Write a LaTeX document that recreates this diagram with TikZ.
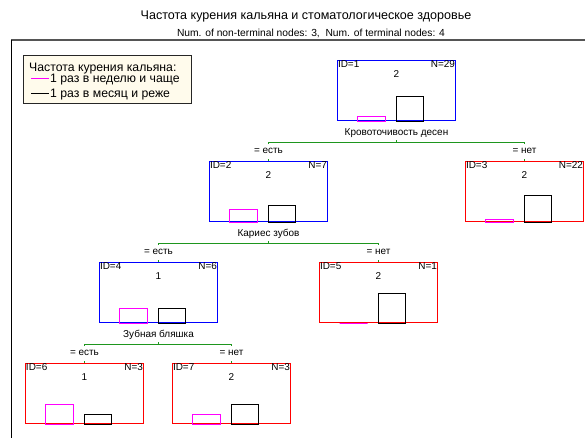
\documentclass[tikz,border=0pt]{standalone}
\usepackage{fontspec}
\setmainfont{Liberation Sans}
\usetikzlibrary{positioning}
\definecolor{trblue}{HTML}{0000FF}
\definecolor{trred}{HTML}{FF0000}
\definecolor{trgreen}{HTML}{1E961E}
\definecolor{trpink}{HTML}{FF00FF}
\definecolor{trcream}{HTML}{FFFBEC}
\definecolor{trframe}{HTML}{555555}

\begin{document}
\begin{tikzpicture}[x=1bp,y=1bp,
  innernode/.style={rectangle,draw,trblue,line width=1.4bp,minimum width=118bp,
                    minimum height=60bp,inner sep=0pt},
  termnode/.style={innernode,trred},
  idtxt/.style={font=\fontsize{10}{12}\selectfont,inner sep=1bp,anchor=north west},
  ntxt/.style={font=\fontsize{10}{12}\selectfont,inner sep=1bp,anchor=north east},
  cls/.style={font=\fontsize{10}{12}\selectfont,inner sep=0pt},
  cond/.style={font=\fontsize{10}{12}\selectfont,inner sep=0pt,text depth=0pt},
  legtxt/.style={font=\fontsize{12.3}{14}\selectfont,inner sep=0pt,text depth=0pt,anchor=west},
  branch/.style={trgreen,line width=1.1bp},
  pinkbar/.style={trpink,line width=1.2bp},
  blackbar/.style={black,line width=1bp}
]
\useasboundingbox (0,0) rectangle (585,438);

% ---- Title ---------------------------------------------------
\node[font=\fontsize{12.6}{15}\selectfont] (title) at (306,422)
  {Частота курения кальяна и стоматологическое здоровье};
\node[font=\fontsize{10.3}{12}\selectfont] (subtitle) at (311,405)
  {Num. of non-terminal nodes: 3,\ \ Num. of terminal nodes: 4};

% frame
\draw[trframe,line width=2bp] (11,398) -- (585,398);
\draw[black,line width=1bp] (11.5,398) -- (11.5,0);

% ---- Legend --------------------------------------------------
\node[draw=black!85,fill=trcream,line width=1bp,minimum width=168bp,
      minimum height=48bp,inner sep=0pt] (legend) at (107.5,358.5) {};
\node[legtxt] (leghdr) at (29,370.5) {Частота курения кальяна:};
\draw[trpink,line width=1.2bp] (31,359.5) -- (49,359.5);
\node[legtxt] (legweek) at (50,359.5) {1 раз в неделю и чаще};
\draw[black,line width=1bp] (31,344.5) -- (49,344.5);
\node[legtxt] (legmonth) at (50,344.5) {1 раз в месяц и реже};

% ---- Level 1 -------------------------------------------------
\node[innernode] (n1) at (396.5,347.5) {};
\node[idtxt] (id1) at (n1.north west) {ID=1};
\node[ntxt]  (cnt1) at (n1.north east) {N=29};
\node[cls]   (cls1) at ([yshift=-14bp]n1.north) {2};

% ---- Level 2 -------------------------------------------------
\node[innernode] (n2) at (268.5,246.5) {};
\node[idtxt] (id2) at (n2.north west) {ID=2};
\node[ntxt]  (cnt2) at (n2.north east) {N=7};
\node[cls]   (cls2) at ([yshift=-14bp]n2.north) {2};

\node[termnode] (n3) at (524.5,246.5) {};
\node[idtxt] (id3) at (n3.north west) {ID=3};
\node[ntxt]  (cnt3) at (n3.north east) {N=22};
\node[cls]   (cls3) at ([yshift=-14bp]n3.north) {2};

% ---- Level 3 -------------------------------------------------
\node[innernode] (n4) at (158.5,145.5) {};
\node[idtxt] (id4) at (n4.north west) {ID=4};
\node[ntxt]  (cnt4) at (n4.north east) {N=6};
\node[cls]   (cls4) at ([yshift=-14bp]n4.north) {1};

\node[termnode] (n5) at (378.5,145.5) {};
\node[idtxt] (id5) at (n5.north west) {ID=5};
\node[ntxt]  (cnt5) at (n5.north east) {N=1};
\node[cls]   (cls5) at ([yshift=-14bp]n5.north) {2};

% ---- Level 4 -------------------------------------------------
\node[termnode] (n6) at (84.5,44.5) {};
\node[idtxt] (id6) at (n6.north west) {ID=6};
\node[ntxt]  (cnt6) at (n6.north east) {N=3};
\node[cls]   (cls6) at ([yshift=-14bp]n6.north) {1};

\node[termnode] (n7) at (231.5,44.5) {};
\node[idtxt] (id7) at (n7.north west) {ID=7};
\node[ntxt]  (cnt7) at (n7.north east) {N=3};
\node[cls]   (cls7) at ([yshift=-14bp]n7.north) {2};

% Histogram bars (heights = share of N)
\foreach \n/\a/\b in {n1/5/25,n2/13/17,n3/3/27,n4/15/15,
                      n5/0/30,n6/20/10,n7/10/20} {
  \draw[pinkbar]  ([xshift=-39bp]\n.south) rectangle ++(28,\a);
  \draw[blackbar] (\n.south) rectangle ++(27,\b);
}

% ---- Splits --------------------------------------------------
\node[cond] (q1) at ([yshift=-11bp]n1.south) {Кровоточивость десен};
\coordinate (j1) at ([yshift=-21bp]n1.south);
\draw[branch] (j1) -- ++(0,2);
\draw[branch] (n2.north |- j1) ++(0,-2) -- ++(0,2) -- (n3.north |- j1) -- ++(0,-2);
\node[cond] (e2) at ([yshift=10bp]n2.north) {= есть};
\node[cond] (e3) at ([yshift=10bp]n3.north) {= нет};
\draw[branch] (n2.north) -- ++(0,2);
\draw[branch] (n3.north) -- ++(0,2);

\node[cond] (q2) at ([yshift=-11bp]n2.south) {Кариес зубов};
\coordinate (j2) at ([yshift=-21bp]n2.south);
\draw[branch] (j2) -- ++(0,2);
\draw[branch] (n4.north |- j2) ++(0,-2) -- ++(0,2) -- (n5.north |- j2) -- ++(0,-2);
\node[cond] (e4) at ([yshift=10bp]n4.north) {= есть};
\node[cond] (e5) at ([yshift=10bp]n5.north) {= нет};
\draw[branch] (n4.north) -- ++(0,2);
\draw[branch] (n5.north) -- ++(0,2);

\node[cond] (q4) at ([yshift=-11bp]n4.south) {Зубная бляшка};
\coordinate (j4) at ([yshift=-21bp]n4.south);
\draw[branch] (j4) -- ++(0,2);
\draw[branch] (n6.north |- j4) ++(0,-2) -- ++(0,2) -- (n7.north |- j4) -- ++(0,-2);
\node[cond] (e6) at ([yshift=10bp]n6.north) {= есть};
\node[cond] (e7) at ([yshift=10bp]n7.north) {= нет};
\draw[branch] (n6.north) -- ++(0,2);
\draw[branch] (n7.north) -- ++(0,2);

\end{tikzpicture}
\end{document}
